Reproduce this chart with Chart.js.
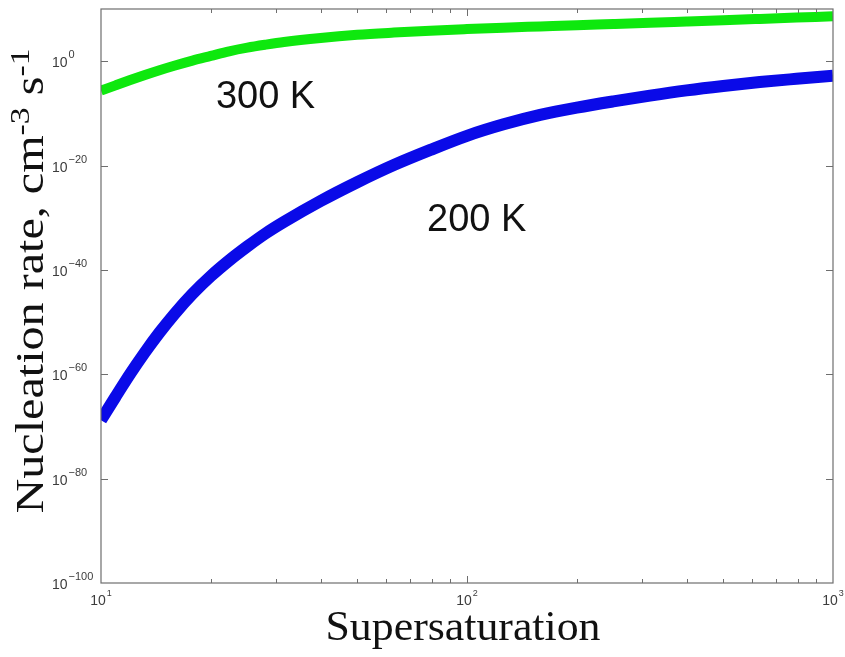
<!DOCTYPE html>
<html>
<head>
<meta charset="utf-8">
<script src="https://cdn.jsdelivr.net/npm/chart.js@4.4.1/dist/chart.umd.min.js"></script>
<style>
  html, body { margin: 0; padding: 0; background: #fff; }
  #wrap { width: 845px; height: 657px; position: relative; }
</style>
</head>
<body>
<div id="wrap"><canvas id="chart"></canvas></div>
<script>
// values; rates are given as log10 of the rate in cm-3 s-1
const supersaturation = [10, 10.96, 12.02, 13.18, 14.45, 15.85, 17.78, 19.95, 22.39, 25.12, 28.18, 31.62, 39.81, 50.12, 63.1, 79.43, 100, 125.9, 158.5, 199.5, 251.2, 316.2, 398.1, 501.2, 631, 794.3, 1000];
const logRate300 = [-5.65, -4.63, -3.62, -2.65, -1.73, -0.87, 0.12, 1.01, 1.9, 2.6, 3.17, 3.68, 4.45, 5.05, 5.48, 5.85, 6.15, 6.42, 6.66, 6.9, 7.12, 7.35, 7.6, 7.85, 8.1, 8.35, 8.6];
const logRate200 = [-68.8, -64.3, -59.9, -55.8, -52.0, -48.5, -44.6, -41.2, -38.2, -35.5, -33.0, -30.8, -26.8, -23.2, -19.9, -17.0, -14.3, -12.1, -10.3, -8.9, -7.7, -6.6, -5.6, -4.75, -4.0, -3.38, -2.8];

const xTickExps = [1, 2, 3];
const yTickExps = [0, -20, -40, -60, -80, -100];

const seriesLabels = ["300 K", "200 K"];
// where the curve labels sit, in data units
const labelSupersat = [20.6, 77.8];
const labelLogRate = [-8.9, -32.6];

const toPoints = (xs, logs) => xs.map((x, i) => ({ x: x, y: Math.pow(10, logs[i]) }));

const expText = (e) => String(e).replace("-", "\u2212");

const drawPower = (ctx, x, y, exp, align, expSize) => {
    const baseFont = "14px 'Liberation Sans', Arial, sans-serif";
    const expFont = expSize + "px 'Liberation Sans', Arial, sans-serif";
    ctx.font = baseFont;
    const baseW = ctx.measureText("10").width;
    ctx.font = expFont;
    const expW = ctx.measureText(expText(exp)).width;
    let start = x;
    if (align === "center") start = x - (baseW + expW + 1) / 2;
    ctx.textAlign = "left";
    ctx.textBaseline = "alphabetic";
    ctx.font = baseFont;
    ctx.fillText("10", start, y);
    ctx.font = expFont;
    ctx.fillText(expText(exp), start + baseW + 1, y - 9);
};

// text squeezed or stretched to a given length, centred on the origin
const fitText = (ctx, parts, length) => {
    let total = 0;
    parts.forEach((p) => {
        ctx.font = p.font;
        total += ctx.measureText(p.text).width;
    });
    ctx.scale(length / total, 1);
    let cx = -total / 2;
    ctx.textAlign = "left";
    parts.forEach((p) => {
        ctx.font = p.font;
        ctx.fillText(p.text, cx, p.rise);
        cx += ctx.measureText(p.text).width;
    });
};

const framePlugin = {
    id: "frame",
    afterDatasetsDraw(chart) {
        const ctx = chart.ctx;
        const area = chart.chartArea;
        const xs = chart.scales.x;
        const ys = chart.scales.y;

        ctx.save();
        ctx.strokeStyle = "#6e6e6e";
        ctx.lineWidth = 1.2;
        ctx.strokeRect(area.left, area.top, area.right - area.left, area.bottom - area.top);

        // x ticks, major and minor, on bottom and top
        ctx.lineWidth = 1;
        for (let e = 1; e < 3; e++) {
            for (let m = 1; m < 10; m++) {
                if (m === 1 && e === 1) continue;
                const px = Math.round(xs.getPixelForValue(m * Math.pow(10, e))) + 0.5;
                const len = m === 1 ? 7 : 4;
                ctx.beginPath();
                ctx.moveTo(px, area.bottom);
                ctx.lineTo(px, area.bottom - len);
                ctx.moveTo(px, area.top);
                ctx.lineTo(px, area.top + len);
                ctx.stroke();
            }
        }
        // y ticks on left and right
        yTickExps.forEach((e) => {
            if (e === -100) return;
            const py = Math.round(ys.getPixelForValue(Math.pow(10, e))) + 0.5;
            ctx.beginPath();
            ctx.moveTo(area.left, py);
            ctx.lineTo(area.left + 7, py);
            ctx.moveTo(area.right, py);
            ctx.lineTo(area.right - 7, py);
            ctx.stroke();
        });

        // tick labels
        ctx.fillStyle = "#3c3c3c";
        yTickExps.forEach((e) => {
            const py = ys.getPixelForValue(Math.pow(10, e));
            drawPower(ctx, 52, py + 6, e, "left", 11);
        });
        xTickExps.forEach((e) => {
            const px = xs.getPixelForValue(Math.pow(10, e));
            drawPower(ctx, px, 605, e, "center", 9);
        });

        // curve labels
        ctx.fillStyle = "#111";
        ctx.font = "38px 'Liberation Sans', Arial, sans-serif";
        ctx.textAlign = "left";
        ctx.textBaseline = "alphabetic";
        seriesLabels.forEach((t, i) => {
            ctx.fillText(t, xs.getPixelForValue(labelSupersat[i]), ys.getPixelForValue(Math.pow(10, labelLogRate[i])));
        });

        // axis titles
        const big = "40px 'Liberation Serif', 'Times New Roman', serif";
        const small = "28px 'Liberation Serif', 'Times New Roman', serif";

        ctx.save();
        ctx.translate(463, 640);
        fitText(ctx, [{ text: "Supersaturation", font: "42px 'Liberation Serif', 'Times New Roman', serif", rise: 0 }], 275);
        ctx.restore();

        ctx.save();
        ctx.translate(43, 281);
        ctx.rotate(-Math.PI / 2);
        fitText(ctx, [
            { text: "Nucleation rate, cm", font: big, rise: 0 },
            { text: "-3", font: small, rise: -14 },
            { text: " s", font: big, rise: 0 },
            { text: "-1", font: small, rise: -14 },
        ], 465);
        ctx.restore();

        ctx.restore();
    },
};

new Chart(document.getElementById("chart"), {
    type: "line",
    data: {
        datasets: [
            {
                label: seriesLabels[0],
                data: toPoints(supersaturation, logRate300),
                borderColor: "#0ee80e",
                borderWidth: 10,
                pointRadius: 0,
                cubicInterpolationMode: "monotone",
            },
            {
                label: seriesLabels[1],
                data: toPoints(supersaturation, logRate200),
                borderColor: "#0a0ae8",
                borderWidth: 12,
                pointRadius: 0,
                cubicInterpolationMode: "monotone",
            },
        ],
    },
    options: {
        responsive: true,
        maintainAspectRatio: false,
        animation: false,
        layout: { padding: { left: 101, right: 12, top: 9, bottom: 74 } },
        plugins: { legend: { display: false }, tooltip: { enabled: false } },
        scales: {
            x: { type: "logarithmic", min: 10, max: 1000, display: false },
            y: { type: "logarithmic", min: 1e-100, max: 1e10, display: false },
        },
    },
    plugins: [framePlugin],
});
</script>
</body>
</html>
